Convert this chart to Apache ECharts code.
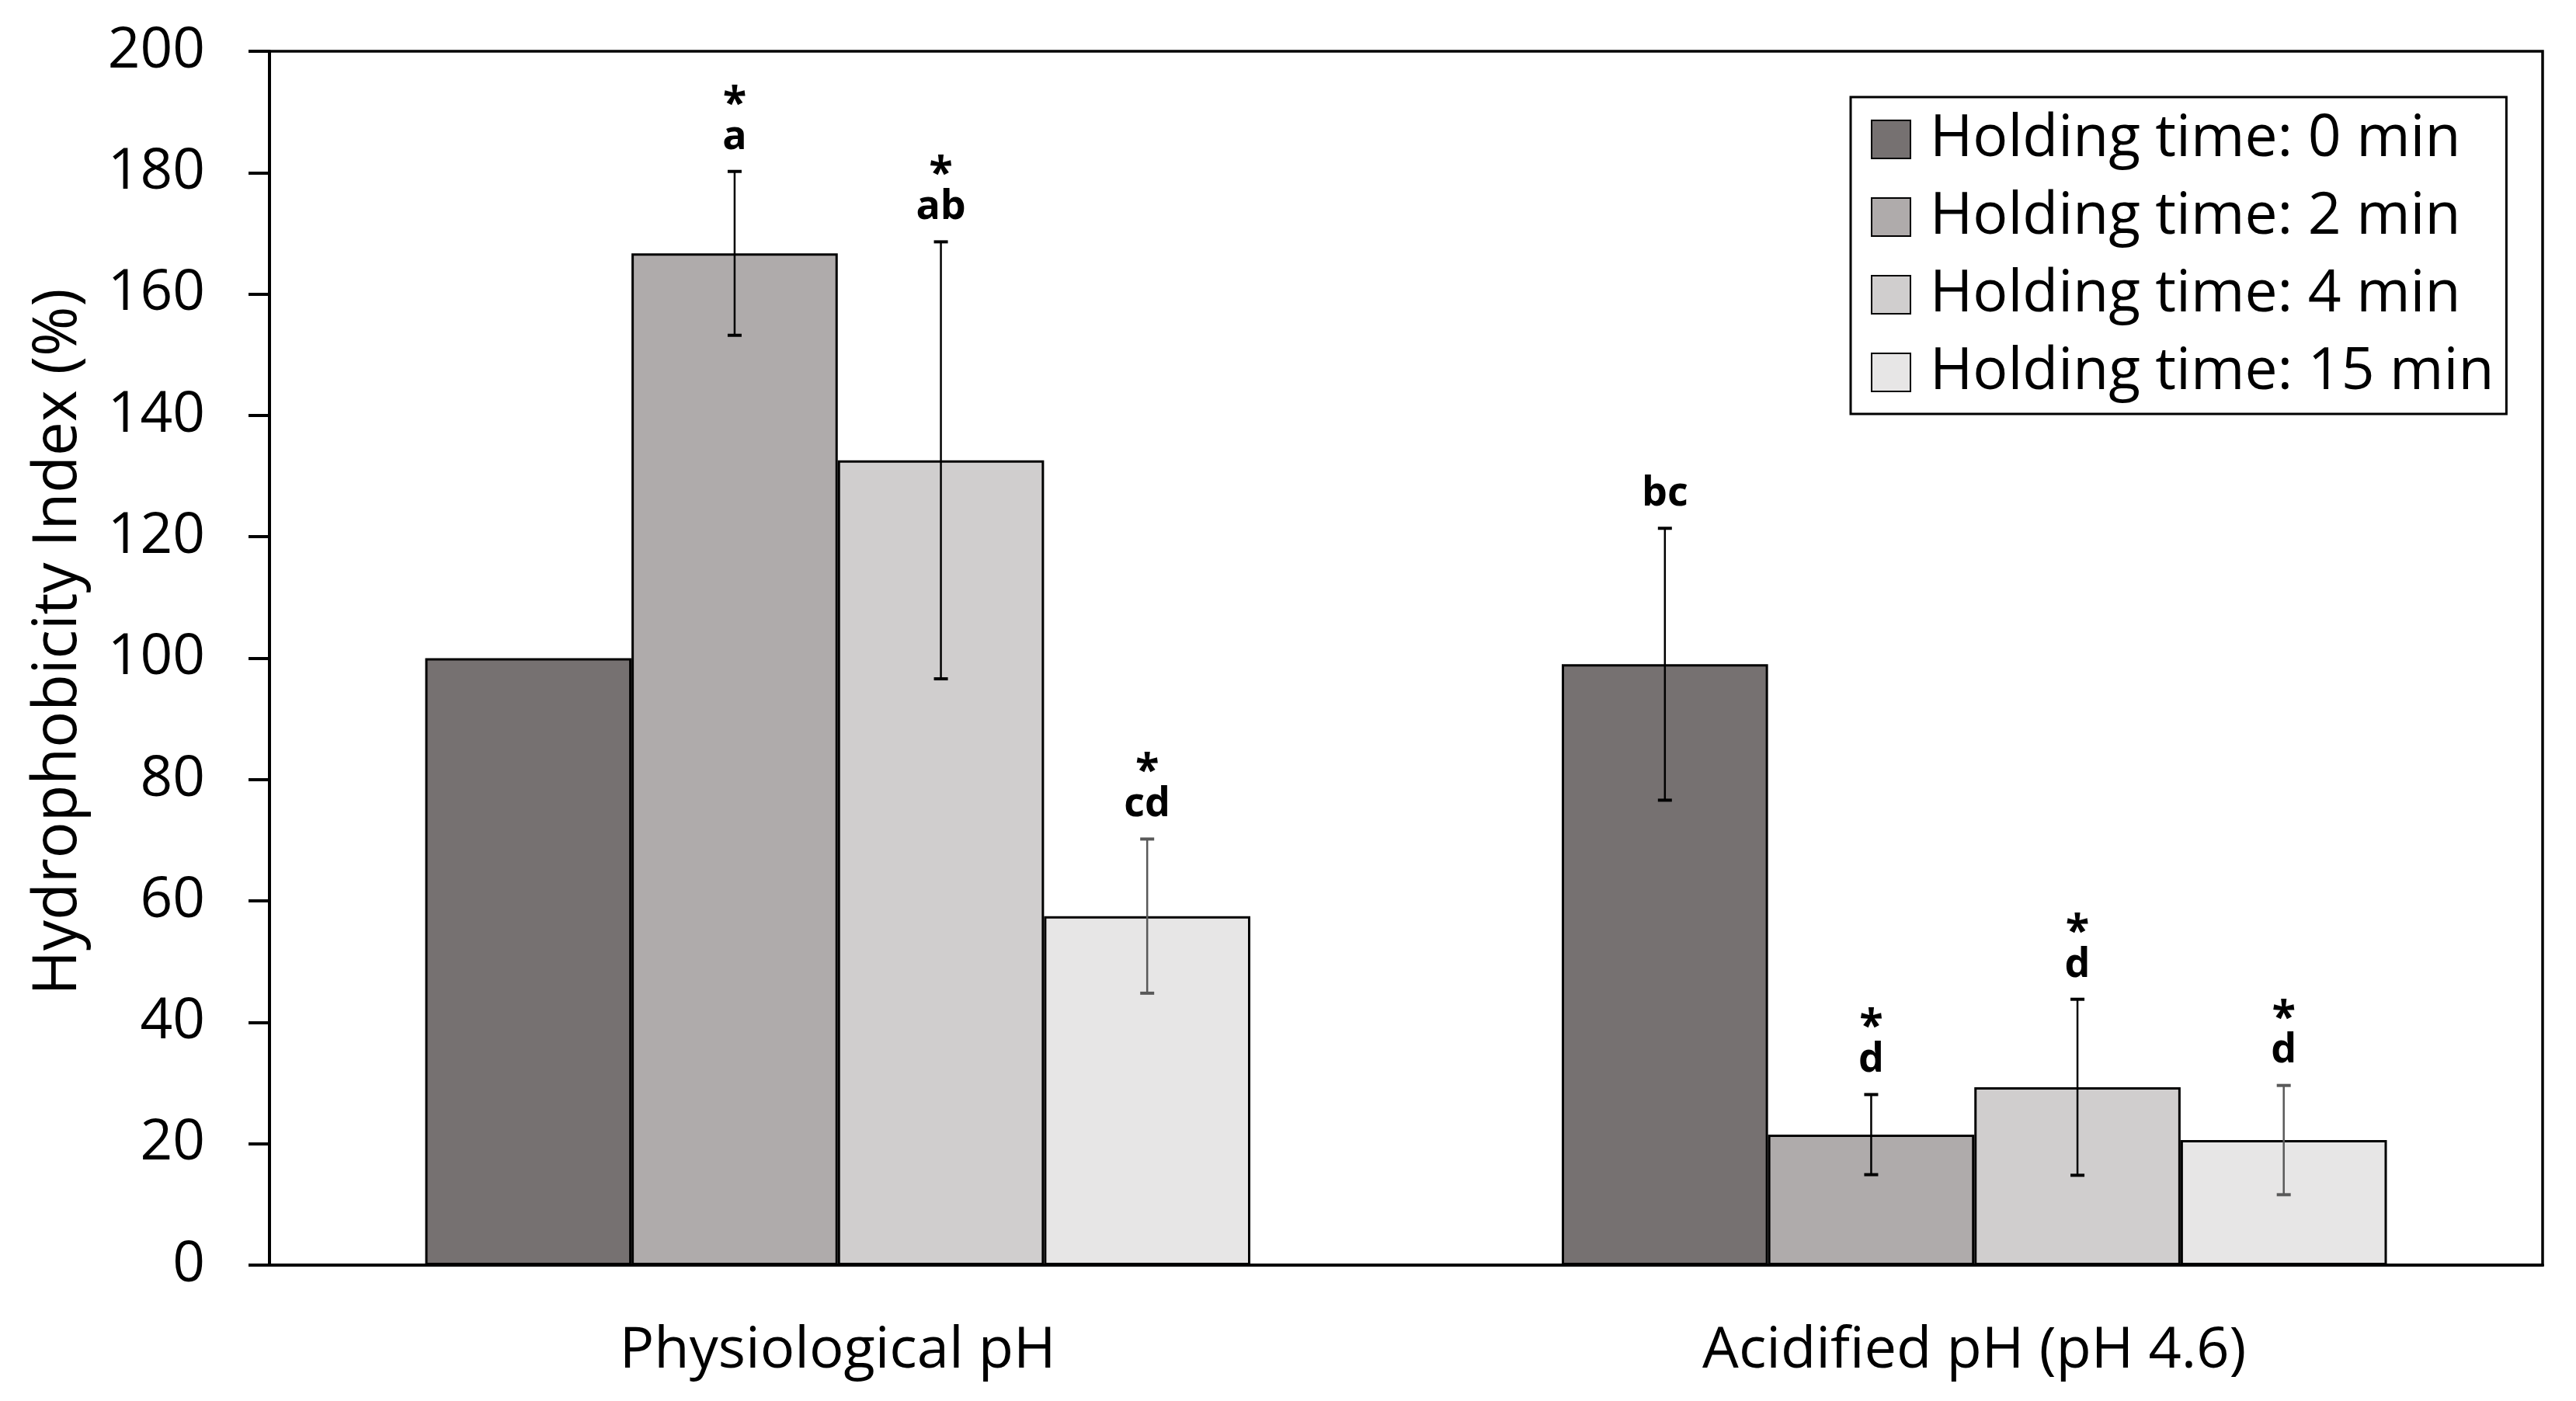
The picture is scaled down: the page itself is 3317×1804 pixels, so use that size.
<!DOCTYPE html>
<html>
<head>
<meta charset="utf-8">
<script src="https://cdn.jsdelivr.net/npm/echarts@6/dist/echarts.min.js"></script>
<style>html,body{margin:0;padding:0;background:#fff;}#c{width:3317px;height:1804px;}</style>
</head>
<body>
<div id="c"></div>
<script>
const categories = ['Physiological pH', 'Acidified pH (pH 4.6)'];
const seriesNames = ['Holding time: 0 min', 'Holding time: 2 min', 'Holding time: 4 min', 'Holding time: 15 min'];
const yTicks = [0, 20, 40, 60, 80, 100, 120, 140, 160, 180, 200];

const mean0 = [100, 99.0];   const sd0 = [0, 22.4];
const mean2 = [166.7, 21.5]; const sd2 = [13.5, 6.6];
const mean4 = [132.6, 29.3]; const sd4 = [36.0, 14.5];
const mean15 = [57.5, 20.6]; const sd15 = [12.7, 9.0];

const stars0 = ['', ''];   const letters0 = ['', 'bc'];
const stars2 = ['*', '*']; const letters2 = ['a', 'd'];
const stars4 = ['*', '*']; const letters4 = ['ab', 'd'];
const stars15 = ['*', '*']; const letters15 = ['cd', 'd'];

const means = [mean0, mean2, mean4, mean15];
const sds = [sd0, sd2, sd4, sd15];
const stars = [stars0, stars2, stars4, stars15];
const letters = [letters0, letters2, letters4, letters15];
const colors = ['#767171', '#AFABAB', '#D0CECE', '#E7E6E6'];
const errColors = ['#000', '#000', '#000', '#595959'];
const catGap = 0.274;
const FONT = '"Open Sans"';

function makeRender(si) {
  return function (params, api) {
    const cat = api.value(0), m = api.value(1), s = api.value(2);
    const star = stars[si][params.dataIndex], letter = letters[si][params.dataIndex];
    const band = api.size([1, 0])[0];
    const barW = band * (1 - catGap) / 4;
    const cx = api.coord([cat, 0])[0] + (si - 1.5) * barW;
    const yTop = api.coord([cat, m + s])[1];
    const yBot = api.coord([cat, m - s])[1];
    const children = [];
    const st = { stroke: errColors[si], lineWidth: 2.5 };
    if (s > 0) {
      children.push({ type: 'line', shape: { x1: cx, y1: yTop, x2: cx, y2: yBot }, style: st });
      children.push({ type: 'line', shape: { x1: cx - 9, y1: yTop, x2: cx + 9, y2: yTop }, style: { stroke: errColors[si], lineWidth: 4 } });
      children.push({ type: 'line', shape: { x1: cx - 9, y1: yBot, x2: cx + 9, y2: yBot }, style: { stroke: errColors[si], lineWidth: 4 } });
    }
    const ly = yTop - 44;
    if (letter) {
      children.push({ type: 'text', x: cx, y: ly, style: { text: letter, fill: '#000', font: 'bold 52px ' + FONT, align: 'center', verticalAlign: 'middle' } });
    }
    if (star) {
      children.push({ type: 'text', x: cx, y: ly - 42, style: { text: star, fill: '#000', font: 'bold 56px ' + FONT, align: 'center', verticalAlign: 'middle' } });
    }
    return { type: 'group', children: children };
  };
}

const series = [];
seriesNames.forEach((name, si) => {
  series.push({
    name: name, type: 'bar', barGap: 0, barCategoryGap: (catGap * 100) + '%',
    data: means[si],
    itemStyle: { color: colors[si], borderColor: '#000', borderWidth: 3 },
    emphasis: { disabled: true }
  });
});
seriesNames.forEach((name, si) => {
  series.push({
    name: name + ' err', type: 'custom', renderItem: makeRender(si),
    data: categories.map((c, i) => [i, means[si][i], sds[si][i]]),
    encode: { x: 0, y: 1 }, z: 10, silent: true
  });
});

const chart = echarts.init(document.getElementById('c'), null, { renderer: 'canvas' });
chart.setOption({
  animation: false,
  backgroundColor: '#fff',
  grid: { left: 347, right: 43, top: 66, bottom: 175, show: true, borderColor: '#000', borderWidth: 3.5, containLabel: false },
  legend: {
    data: seriesNames, orient: 'vertical', left: 2383, top: 125,
    padding: [17, 16, 16, 26], itemGap: 25, itemWidth: 50, itemHeight: 49,
    borderColor: '#000', borderWidth: 3, icon: 'rect',
    textStyle: { fontFamily: FONT, fontSize: 75, color: '#000', lineHeight: 72, padding: [0, 0, 0, 20] }
  },
  xAxis: {
    type: 'category', data: categories,
    axisLine: { lineStyle: { color: '#000', width: 4 } },
    axisTick: { show: false },
    axisLabel: { fontFamily: FONT, fontSize: 74, color: '#000', margin: 74 }
  },
  yAxis: {
    type: 'value', min: 0, max: 200, interval: 20,
    name: 'Hydrophobicity Index (%)', nameLocation: 'middle', nameGap: 232,
    nameTextStyle: { fontFamily: FONT, fontSize: 78, color: '#000', padding: [0, 0, 0, 42] },
    axisLine: { show: true, lineStyle: { color: '#000', width: 4 } },
    axisTick: { show: true, length: 27, lineStyle: { color: '#000', width: 4 } },
    axisLabel: { fontFamily: FONT, fontSize: 73, color: '#000', margin: 83,
      formatter: v => (yTicks.indexOf(v) >= 0 ? String(v) : '') },
    splitLine: { show: false }
  },
  series: series
});
</script>
</body>
</html>
